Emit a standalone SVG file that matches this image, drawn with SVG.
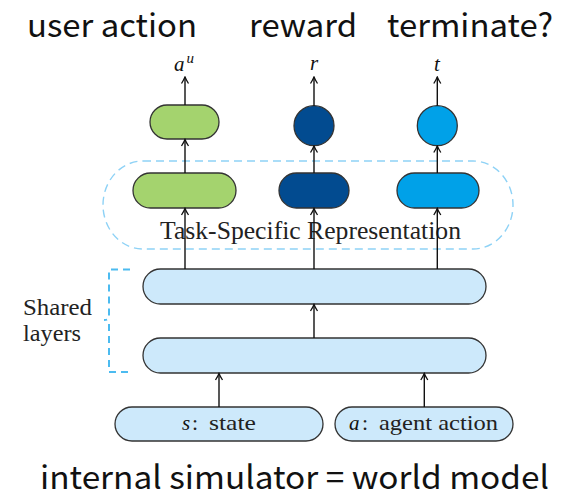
<svg xmlns="http://www.w3.org/2000/svg" width="566" height="497" viewBox="0 0 566 497">
<style>
.sans{font-family:"Noto Sans CJK SC","Noto Sans",sans-serif;font-size:32px;fill:#111}
.serif{font-family:"Liberation Serif","DejaVu Serif",serif;fill:#222}
.math{font-family:"Liberation Serif","DejaVu Serif",serif;font-style:italic;font-size:21px;fill:#111}
.pill{stroke:#333;stroke-width:1.3}
.green{fill:#a4d36e}
.dark{fill:#024b90}
.bright{fill:#00a1e8}
.pale{fill:#cde9fb}
.arrow{stroke:#111;stroke-width:1.4;fill:none;marker-end:url(#ah)}
.dash{fill:none;stroke:#8ed2f6;stroke-width:1.4;stroke-dasharray:8 5}
.brace{fill:none;stroke:#4cbbf0;stroke-width:2;stroke-dasharray:7 5}
</style>
<defs>
<marker id="ah" markerUnits="userSpaceOnUse" viewBox="0 0 10 10" refX="8.5" refY="5" markerWidth="10" markerHeight="10" orient="auto">
<path d="M2,1.5 Q6,4 8.5,5 Q6,6 2,8.5" fill="none" stroke="#111" stroke-width="1.3"/>
</marker>
</defs>
<rect width="566" height="497" fill="#fff"/>

<g id="titles">
<text class="sans" x="27" y="37" textLength="170" lengthAdjust="spacingAndGlyphs">user action</text>
<text class="sans" x="249" y="37" textLength="108" lengthAdjust="spacingAndGlyphs">reward</text>
<text class="sans" x="387" y="37" textLength="166" lengthAdjust="spacingAndGlyphs">terminate?</text>
</g>

<g id="task-box">
<rect class="dash" x="103" y="161" width="410" height="88" rx="40" ry="44"/>
<text class="serif" x="160" y="239" font-size="24.5" textLength="301" lengthAdjust="spacingAndGlyphs" fill="#4d4d4d">Task-Specific Representation</text>
</g>

<g id="shared-label">
<path class="brace" d="M130,269.5 H109 V317 Q109,320 104,320 M109,324 V372 H130"/>
<text class="serif" x="23" y="315" font-size="24" textLength="69" lengthAdjust="spacingAndGlyphs" fill="#444">Shared</text>
<text class="serif" x="23" y="341" font-size="24" textLength="58" lengthAdjust="spacingAndGlyphs" fill="#444">layers</text>
</g>

<g id="labels">
<text class="math" x="174" y="71">a<tspan dx="2" dy="-8" font-size="15">u</tspan></text>
<text class="math" x="314" y="70" text-anchor="middle">r</text>
<text class="math" x="437" y="71" text-anchor="middle">t</text>
</g>

<g id="node-user-out"><rect class="pill green" x="150" y="105" width="69" height="34" rx="17"/></g>
<g id="node-reward-out"><circle class="pill dark" cx="314" cy="125.7" r="20"/></g>
<g id="node-term-out"><circle class="pill bright" cx="437.3" cy="125.7" r="20"/></g>

<g id="node-user-rep"><rect class="pill green" x="133" y="173" width="103" height="35" rx="17.5"/></g>
<g id="node-reward-rep"><rect class="pill dark" x="279" y="173" width="70" height="35" rx="17.5"/></g>
<g id="node-term-rep"><rect class="pill bright" x="397" y="173" width="82" height="35" rx="17.5"/></g>

<g id="node-shared-2"><rect class="pill pale" x="143" y="269" width="343" height="35" rx="17.5"/></g>
<g id="node-shared-1"><rect class="pill pale" x="143" y="338" width="343" height="35" rx="17.5"/></g>

<g id="node-state">
<rect class="pill pale" x="115" y="407" width="208" height="34" rx="17"/>
<text class="math" x="182" y="430">s</text>
<text class="serif" x="192" y="430" font-size="22">:</text>
<text class="serif" x="209" y="430" font-size="22" textLength="47" lengthAdjust="spacingAndGlyphs">state</text>
</g>
<g id="node-action">
<rect class="pill pale" x="335" y="407" width="178" height="34" rx="17"/>
<text class="math" x="349" y="430">a</text>
<text class="serif" x="362" y="430" font-size="22">:</text>
<text class="serif" x="379" y="430" font-size="22" textLength="119" lengthAdjust="spacingAndGlyphs">agent action</text>
</g>

<g id="connectors">
<line class="arrow" x1="185" y1="105" x2="185" y2="77"/>
<line class="arrow" x1="314" y1="105.7" x2="314" y2="77"/>
<line class="arrow" x1="437.3" y1="105.7" x2="437.3" y2="77"/>
<line class="arrow" x1="185" y1="173" x2="185" y2="139.5"/>
<line class="arrow" x1="314" y1="173" x2="314" y2="146"/>
<line class="arrow" x1="437.3" y1="173" x2="437.3" y2="146"/>
<line class="arrow" x1="185" y1="269" x2="185" y2="208.5"/>
<line class="arrow" x1="314" y1="269" x2="314" y2="208.5"/>
<line class="arrow" x1="437.3" y1="269" x2="437.3" y2="208.5"/>
<line class="arrow" x1="314" y1="338" x2="314" y2="304.5"/>
<line class="arrow" x1="219" y1="407" x2="219" y2="373.5"/>
<line class="arrow" x1="424.3" y1="407" x2="424.3" y2="373.5"/>
</g>

<g id="footer">
<text class="sans" x="40" y="489" textLength="509" lengthAdjust="spacingAndGlyphs">internal simulator = world model</text>
</g>
</svg>
